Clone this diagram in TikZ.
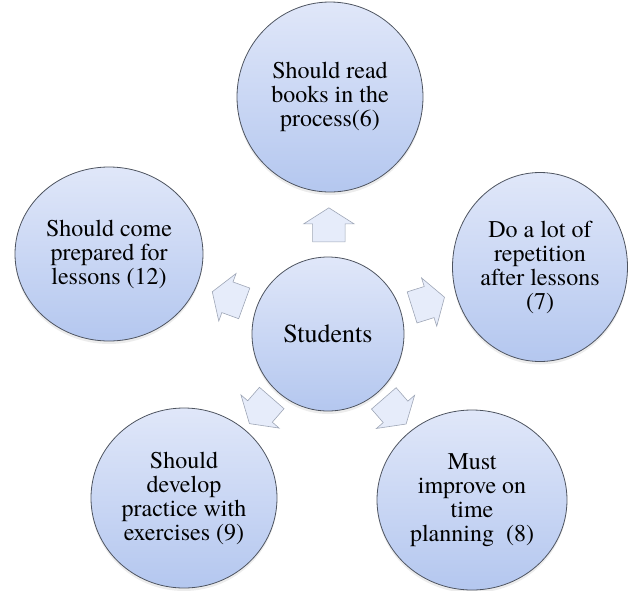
\documentclass[tikz,border=0pt]{standalone}
\usepackage{fontspec}
\setmainfont{texgyretermes}[Extension=.otf,UprightFont=*-regular,BoldFont=*-bold]
\usepackage{xcolor}
\definecolor{ballhi}{RGB}{224,231,249}
\definecolor{balllo}{RGB}{180,199,239}
\definecolor{ballrim}{RGB}{78,84,96}
\definecolor{arrfill}{RGB}{230,236,250}
\definecolor{arrrim}{RGB}{158,166,182}
\usetikzlibrary{shapes.geometric,shapes.arrows,calc,shadows}

\begin{document}
\begin{tikzpicture}[x=1pt,y=-1pt,
  ball/.style={ellipse,draw=ballrim,line width=0.8pt,top color=ballhi,bottom color=balllo,
    inner sep=0pt,align=center,font=\fontsize{24}{24}\selectfont,
    drop shadow={shadow xshift=0pt,shadow yshift=-3pt,opacity=0.15}},
  push/.style={single arrow,draw=arrrim,fill=arrfill,line width=0.6pt,inner xsep=0pt,
    inner ysep=16pt,minimum height=34pt,single arrow head extend=9pt,
    single arrow tip angle=115}]
  \useasboundingbox (0,0) rectangle (630,590);
  % hub and the five answers round it
  \node[ball,minimum width=152pt,minimum height=154pt,font=\fontsize{26}{26}\selectfont](stu) at (328,334){Students};
  \node[ball,minimum width=186pt,minimum height=190pt](read) at (330,97){Should read\\books in the\\process(6)};
  \node[ball,minimum width=175pt,minimum height=189pt](rep) at (540,267){Do a lot of\\repetition\\after lessons\\(7)};
  \node[ball,minimum width=190pt,minimum height=180pt](plan) at (472,500){Must\\improve on\\time\\planning\ \ (8)};
  \node[ball,minimum width=186pt,minimum height=180pt](prac) at (184,498){Should\\develop\\practice with\\exercises (9)};
  \node[ball,minimum width=188pt,minimum height=174pt](prep) at (109,254){Should come\\prepared for\\lessons (12)};
  % block arrows pointing outwards
  \node[push,rotate=90](a1) at ($(stu)!104pt!(read)$){};
  \node[push,rotate=17.5](a2) at ($(stu)!100pt!(rep)$){};
  \node[push,rotate=-49](a3) at ($(stu)!97pt!(plan)$){};
  \node[push,rotate=229](a4) at ($(stu)!97pt!(prac)$){};
  \node[push,rotate=160](a5) at ($(stu)!101pt!(prep)$){};
\end{tikzpicture}
\end{document}
